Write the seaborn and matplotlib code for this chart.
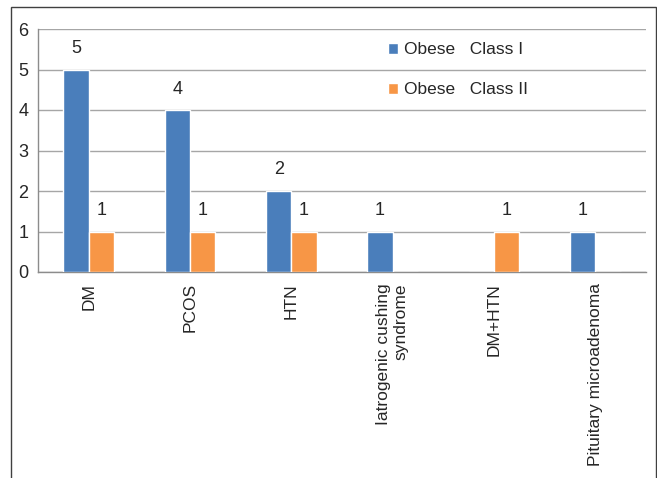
import pandas as pd
import matplotlib.pyplot as plt
import seaborn as sns
from matplotlib.patches import Rectangle

# data
conditions = ['DM', 'PCOS', 'HTN', 'Iatrogenic cushing\nsyndrome', 'DM+HTN', 'Pituitary microadenoma']
class_1 = [5, 4, 2, 1, 0, 1]
class_2 = [1, 1, 1, 0, 1, 0]
groups = ['Obese   Class I', 'Obese   Class II']

df = pd.DataFrame({
    'Condition': conditions * 2,
    'Count': class_1 + class_2,
    'Group': [groups[0]] * len(conditions) + [groups[1]] * len(conditions),
})

sns.set_style('white')
plt.rcParams['font.family'] = ['Liberation Sans', 'DejaVu Sans']

fig = plt.figure(figsize=(6.57, 4.78), dpi=100)
ax = fig.add_axes([38/657, 1 - 272/478, 608/657, 243/478])

sns.barplot(data=df, x='Condition', y='Count', hue='Group',
            palette=['#4a7ebb', '#f79646'], width=0.5, saturation=1,
            ax=ax, zorder=3)

for c in ax.containers:
    labels = [str(int(v)) if v > 0 else '' for v in c.datavalues]
    ax.bar_label(c, labels=labels, padding=9, fontsize=13)

ax.set_ylim(0, 6)
ax.set_yticks(range(7))
ax.yaxis.grid(True, color='#a6a6a6', linewidth=1, zorder=0)
ax.set_xlabel('')
ax.set_ylabel('')
ax.set_xticks(range(len(conditions)))
ax.set_xticklabels(conditions, rotation=90, rotation_mode='anchor',
                   ha='right', va='center', fontsize=12.5)
ax.tick_params(axis='x', length=0, pad=8)
ax.tick_params(axis='y', labelsize=13, length=0, pad=7)
for s in ['top', 'right']:
    ax.spines[s].set_visible(False)
for s in ['left', 'bottom']:
    ax.spines[s].set_color('#8c8c8c')
    ax.spines[s].set_linewidth(1)

leg = ax.legend(loc='upper left', bbox_to_anchor=(0.55, 1.01), frameon=False,
                fontsize=12.5, handlelength=0.6, handleheight=0.6,
                handletextpad=0.3, labelspacing=1.45)

# outer frame (cut at the bottom like the reference)
fig.patches.append(Rectangle((11/657, -0.05), 645/657, 1.05 - 7/478,
                             transform=fig.transFigure, fill=False,
                             edgecolor='#404040', linewidth=1))

fig.savefig('out.png', dpi=100)
